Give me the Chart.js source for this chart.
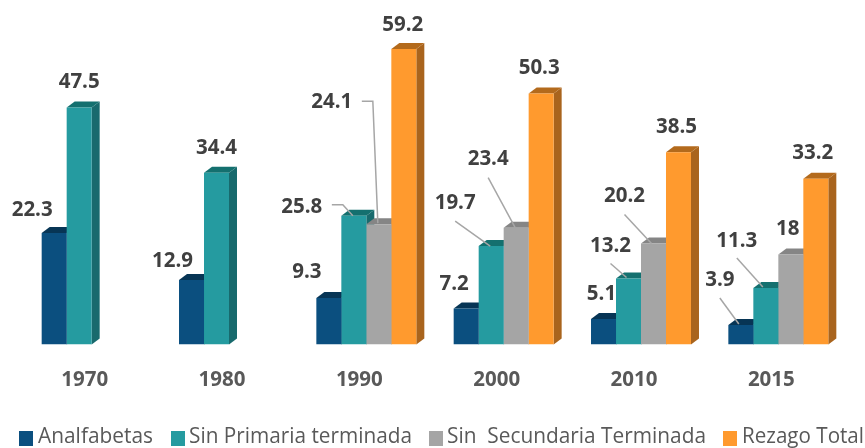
<!DOCTYPE html>
<html><head><meta charset="utf-8">
<style>html,body{margin:0;padding:0;background:#fff}canvas{display:block}</style>
<script src="https://cdn.jsdelivr.net/npm/chart.js@4"></script>
</head><body><canvas id="c" width="865" height="448"></canvas>
<script>
const years = ['1970','1980','1990','2000','2010','2015'];
const analfabetas = [22.3,12.9,9.3,7.2,5.1,3.9];
const sinPrimaria = [47.5,34.4,25.8,19.7,13.2,11.3];
const sinSecundaria = [null,null,24.1,23.4,20.2,18];
const rezagoTotal = [null,null,59.2,50.3,38.5,33.2];

const seriesStyle = [
 {label:'Analfabetas',front:'#0b4f7f',side:'#083a5e',top:'#073555'},
 {label:'Sin Primaria terminada',front:'#259ba0',side:'#186a6d',top:'#14706f'},
 {label:'Sin  Secundaria Terminada',front:'#a5a5a5',side:'#7d7d7d',top:'#858585'},
 {label:'Rezago Total',front:'#ff9a2e',side:'#a9641d',top:'#b36a1c'}
];
const seriesValues=[analfabetas,sinPrimaria,sinSecundaria,rezagoTotal];
const DX=8,DY=6;

// label centre offsets from the bar's top centre: [series, year, dx, dy]
const labelPlace=[
 [0,0,-22,-23],[1,0,0,-25],[0,1,-19,-19],[1,1,0,-25],
 [0,2,-22,-26],[1,2,-52,-9],[2,2,-47,-122],[3,2,-1,-24],
 [0,3,-12,-24],[1,3,-36,-43],[2,3,-28,-68],[3,3,-2,-25],
 [0,4,-2,-25],[1,4,-18,-32],[2,4,-29,-47],[3,4,-2,-25],
 [0,5,-21,-45],[1,5,-29,-47],[2,5,-3,-25],[3,5,-3,-26]
];
// leader lines: series, year, then polyline relative to bar top centre
const leaders=[
 [1,2,[[-22,-11],[-11,-11],[-1,0]]],
 [2,2,[[-17,-123],[-6,-123],[-1,-1]]],
 [1,3,[[-36,-25],[-1,0]]],
 [2,3,[[-28,-50],[-1,0]]],
 [1,4,[[-18,-15],[-2,-1]]],
 [2,4,[[-29,-29],[-2,0]]],
 [0,5,[[-21,-27],[-2,-1]]],
 [1,5,[[-29,-30],[-3,-1]]]
];

const depth3d={id:'depth3d',beforeDatasetsDraw(ch){
 const c=ch.ctx;c.save();
 ch.data.datasets.forEach((d,i)=>{
  ch.getDatasetMeta(i).data.forEach((b,j)=>{
   if(d.data[j]==null)return;
   const p=b.getProps(['x','y','base','width'],true);
   const l=p.x-p.width/2,r=p.x+p.width/2;
   c.fillStyle=seriesStyle[i].side;
   c.beginPath();c.moveTo(r,p.y);c.lineTo(r+DX,p.y-DY);c.lineTo(r+DX,p.base-DY);c.lineTo(r,p.base);c.closePath();c.fill();
   c.fillStyle=seriesStyle[i].top;
   c.beginPath();c.moveTo(l,p.y);c.lineTo(l+DX,p.y-DY);c.lineTo(r+DX,p.y-DY);c.lineTo(r,p.y);c.closePath();c.fill();
  });
 });
 c.restore();
},afterDatasetsDraw(ch){
 const c=ch.ctx;c.save();
 c.strokeStyle='#a6a6a6';c.lineWidth=1.5;
 leaders.forEach(([i,j,pts])=>{
  const b=ch.getDatasetMeta(i).data[j];
  c.beginPath();
  pts.forEach(([x,y],k)=>{k?c.lineTo(b.x+x,b.y+y):c.moveTo(b.x+x,b.y+y)});
  c.stroke();
 });
 c.fillStyle='#404040';c.font='bold 20.5px "Open Sans"';c.textAlign='center';c.textBaseline='middle';
 labelPlace.forEach(([i,j,x,y])=>{
  const b=ch.getDatasetMeta(i).data[j];
  c.fillText(String(seriesValues[i][j]),b.x+x,b.y+y);
 });
 // legend row
 c.font='21px "Open Sans"';c.textAlign='left';
 const legendX=[[19,38],[171,189],[429,447],[723,742]];
 const legendW=[115,223,259,122];
 seriesStyle.forEach((s,i)=>{
  c.fillStyle=s.front;c.fillRect(legendX[i][0],431,14,15);
  c.fillStyle='#595959';
  c.fillText(s.label,legendX[i][1],437,legendW[i]);
 });
 c.restore();
}};

new Chart(document.getElementById('c'),{
 type:'bar',
 data:{labels:years,datasets:seriesStyle.map((s,i)=>({label:s.label,data:seriesValues[i],backgroundColor:s.front,borderWidth:0}))},
 plugins:[depth3d],
 options:{
  responsive:false,animation:false,
  layout:{padding:{left:23,right:18,top:45,bottom:33}},
  plugins:{legend:{display:false},tooltip:{enabled:false}},
  datasets:{bar:{categoryPercentage:0.728,barPercentage:1}},
  scales:{
   x:{grid:{display:false,drawTicks:false},border:{display:false},
      ticks:{color:'#595959',font:{family:'Open Sans',weight:'bold',size:20.5},padding:23,labelOffset:-7,maxRotation:0,autoSkip:false}},
   y:{display:false,min:0,max:60,grid:{display:false}}
  }
 }
});
</script></body></html>
